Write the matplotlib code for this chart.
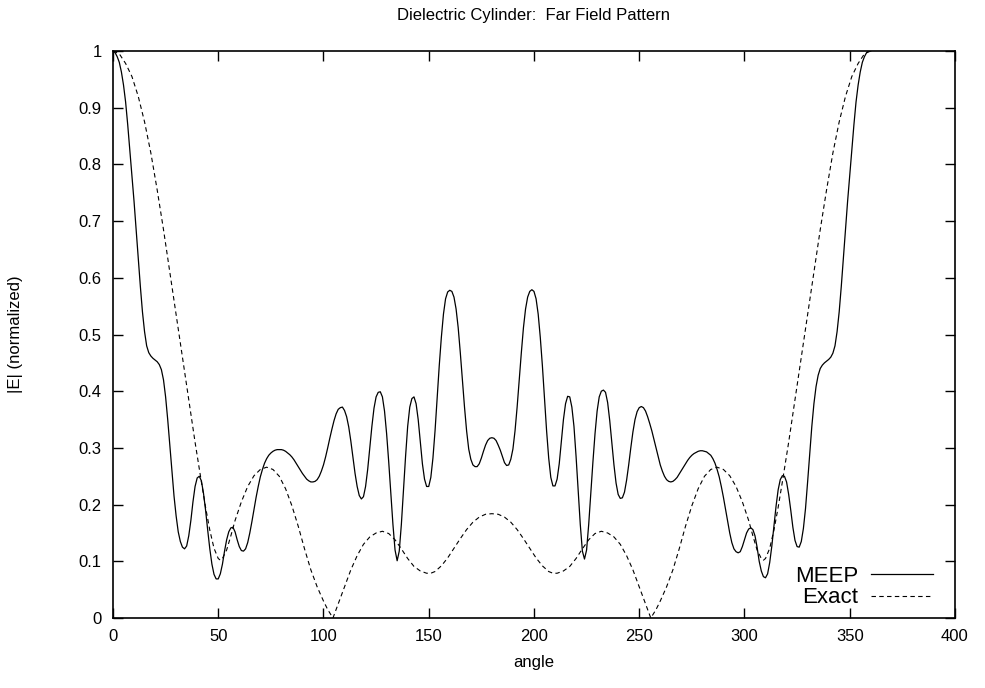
import matplotlib
matplotlib.use('Agg')
import matplotlib.pyplot as plt

plt.rcParams['font.family'] = ['Liberation Sans', 'DejaVu Sans']

# MEEP result, one value per degree
meep_angle = list(range(0, 361))
meep_val = [
    1.0, 0.997, 0.99, 0.98, 0.963, 0.94, 0.91, 0.87, 0.825, 0.78,
    0.735, 0.685, 0.635, 0.585, 0.54, 0.505, 0.48, 0.468, 0.462, 0.458,
    0.455, 0.452, 0.447, 0.438, 0.42, 0.39, 0.35, 0.305, 0.26, 0.215,
    0.18, 0.152, 0.135, 0.125, 0.122, 0.127, 0.145, 0.172, 0.205, 0.232,
    0.247, 0.25, 0.242, 0.22, 0.19, 0.155, 0.122, 0.095, 0.077, 0.069,
    0.069, 0.078, 0.095, 0.118, 0.138, 0.152, 0.159, 0.16, 0.152, 0.138,
    0.126, 0.119, 0.118, 0.122, 0.133, 0.15, 0.17, 0.192, 0.213, 0.232,
    0.249, 0.262, 0.273, 0.281, 0.287, 0.291, 0.294, 0.296, 0.297, 0.297,
    0.297, 0.296, 0.294, 0.291, 0.288, 0.284, 0.279, 0.273, 0.267, 0.261,
    0.255, 0.25, 0.245, 0.242, 0.24, 0.24, 0.241, 0.244, 0.25, 0.259,
    0.27, 0.284, 0.3, 0.317, 0.333, 0.348, 0.36, 0.368, 0.371, 0.372,
    0.366, 0.355, 0.337, 0.312, 0.283, 0.255, 0.232, 0.216, 0.21, 0.214,
    0.232, 0.262, 0.3, 0.338, 0.37, 0.39, 0.398, 0.399, 0.39, 0.365,
    0.325, 0.275, 0.22, 0.165, 0.12, 0.101, 0.118, 0.165, 0.225, 0.285,
    0.338, 0.372, 0.387, 0.39, 0.378, 0.35, 0.31, 0.272, 0.245, 0.232,
    0.232, 0.248, 0.282, 0.33, 0.388, 0.445, 0.495, 0.536, 0.563, 0.575,
    0.578, 0.576, 0.566, 0.545, 0.512, 0.468, 0.42, 0.372, 0.33, 0.298,
    0.28, 0.27, 0.267, 0.267, 0.272, 0.282, 0.294, 0.305, 0.313, 0.317,
    0.318, 0.317, 0.313, 0.305, 0.296, 0.285, 0.274, 0.269, 0.27, 0.28,
    0.298, 0.33, 0.372, 0.42, 0.468, 0.512, 0.545, 0.566, 0.576, 0.579,
    0.576, 0.563, 0.536, 0.495, 0.445, 0.388, 0.33, 0.282, 0.248, 0.233,
    0.233, 0.245, 0.272, 0.31, 0.35, 0.378, 0.391, 0.39, 0.372, 0.338,
    0.285, 0.225, 0.165, 0.118, 0.104, 0.12, 0.165, 0.22, 0.275, 0.325,
    0.365, 0.39, 0.4, 0.402, 0.398, 0.38, 0.348, 0.308, 0.27, 0.238,
    0.218, 0.211, 0.212, 0.222, 0.243, 0.27, 0.3, 0.328, 0.35, 0.364,
    0.371, 0.373, 0.371, 0.365, 0.355, 0.343, 0.33, 0.315, 0.3, 0.285,
    0.27, 0.259, 0.25, 0.244, 0.241, 0.24, 0.241, 0.244, 0.248, 0.254,
    0.26, 0.266, 0.272, 0.278, 0.283, 0.287, 0.29, 0.292, 0.294, 0.295,
    0.295, 0.294, 0.293, 0.29, 0.287, 0.281, 0.273, 0.262, 0.249, 0.232,
    0.213, 0.192, 0.17, 0.15, 0.133, 0.122, 0.117, 0.115, 0.117, 0.126,
    0.138, 0.15, 0.157, 0.159, 0.156, 0.145, 0.125, 0.1, 0.083, 0.073,
    0.071, 0.078, 0.098, 0.127, 0.162, 0.197, 0.226, 0.244, 0.251, 0.25,
    0.24, 0.218, 0.19, 0.16, 0.137, 0.126, 0.125, 0.135, 0.158, 0.193,
    0.24, 0.29, 0.338, 0.378, 0.408, 0.428, 0.44, 0.446, 0.45, 0.453,
    0.456, 0.46, 0.467, 0.48, 0.505, 0.54, 0.585, 0.635, 0.685, 0.735,
    0.78, 0.825, 0.87, 0.91, 0.94, 0.963, 0.98, 0.99, 0.997, 1.0,
    1.0]

# exact solution
exact_angle = [
    0, 3, 6, 9, 12, 15, 18, 21, 24, 27,
    30, 33, 36, 39, 42, 44, 46, 48, 50, 51,
    52, 54, 56, 58, 61, 64, 67, 70, 73, 76,
    79, 82, 85, 88, 91, 94, 97, 100, 102, 104.5,
    107, 110, 113, 116, 119, 122, 125, 128, 131, 134,
    137, 140, 143, 146, 149, 151, 153, 156, 159, 162,
    165, 168, 171, 174, 177, 180, 183, 186, 189, 192,
    195, 198, 201, 204, 207, 209, 211, 214, 217, 220,
    223, 226, 229, 232, 235, 238, 241, 244, 247, 250,
    253, 255.5, 258, 260, 263, 266, 269, 272, 275, 278,
    281, 284, 287, 290, 293, 296, 299, 302, 304, 306,
    308, 309, 310, 312, 314, 316, 318, 321, 324, 327,
    330, 333, 336, 339, 342, 345, 348, 351, 354, 357,
    360]
exact_val = [
    1.0, 0.995, 0.978, 0.955, 0.92, 0.875, 0.82, 0.755, 0.685, 0.61,
    0.535, 0.46, 0.385, 0.31, 0.24, 0.195, 0.155, 0.123, 0.105, 0.102,
    0.105, 0.12, 0.145, 0.172, 0.205, 0.232, 0.251, 0.262, 0.266, 0.262,
    0.25, 0.228, 0.198, 0.162, 0.122, 0.085, 0.055, 0.03, 0.015, 0.0,
    0.025, 0.055, 0.085, 0.11, 0.13, 0.143, 0.15, 0.153, 0.149, 0.138,
    0.122, 0.105, 0.091, 0.083, 0.079, 0.079, 0.082, 0.092, 0.106, 0.123,
    0.14, 0.156, 0.169, 0.178, 0.183, 0.184, 0.183, 0.178, 0.169, 0.156,
    0.14, 0.123, 0.106, 0.092, 0.082, 0.079, 0.079, 0.083, 0.091, 0.105,
    0.122, 0.138, 0.149, 0.153, 0.15, 0.143, 0.13, 0.11, 0.085, 0.055,
    0.025, 0.0, 0.015, 0.03, 0.055, 0.085, 0.122, 0.162, 0.198, 0.228,
    0.25, 0.262, 0.266, 0.262, 0.251, 0.232, 0.205, 0.172, 0.145, 0.12,
    0.105, 0.102, 0.105, 0.123, 0.155, 0.195, 0.24, 0.31, 0.385, 0.46,
    0.535, 0.61, 0.685, 0.755, 0.82, 0.875, 0.92, 0.955, 0.978, 0.995,
    1.0]

x_ticks = [0, 50, 100, 150, 200, 250, 300, 350, 400]
y_ticks = [0, 0.1, 0.2, 0.3, 0.4, 0.5, 0.6, 0.7, 0.8, 0.9, 1]

fig = plt.figure(figsize=(9.85, 6.88), dpi=100)
ax = fig.add_axes([0.1147, 0.1017, 0.8548, 0.8242])

ax.plot(meep_angle, meep_val, color='black', lw=0.9, label='MEEP')
ax.plot(exact_angle, exact_val, color='black', lw=0.8, dashes=(4, 3), label='Exact')

ax.set_xlim(0, 400)
ax.set_ylim(0, 1)
ax.set_xticks(x_ticks)
ax.set_yticks(y_ticks)
ax.set_yticklabels(['%g' % t for t in y_ticks])
ax.tick_params(direction='in', top=True, right=True, length=7, width=1, labelsize=12, pad=8)
for s in ax.spines.values():
    s.set_linewidth(1.2)

ax.set_xlabel('angle', fontsize=12, labelpad=8)
ax.set_ylabel('|E| (normalized)', fontsize=12, labelpad=40)
ax.set_title('Dielectric Cylinder:  Far Field Pattern', fontsize=12, pad=22)

ax.legend(loc='lower right', frameon=False, markerfirst=False, fontsize=16,
          handlelength=2.8, handletextpad=0.55, labelspacing=0.02,
          borderaxespad=0.3, bbox_to_anchor=(0.9924, -0.0106))

fig.savefig('out.png', dpi=100)
